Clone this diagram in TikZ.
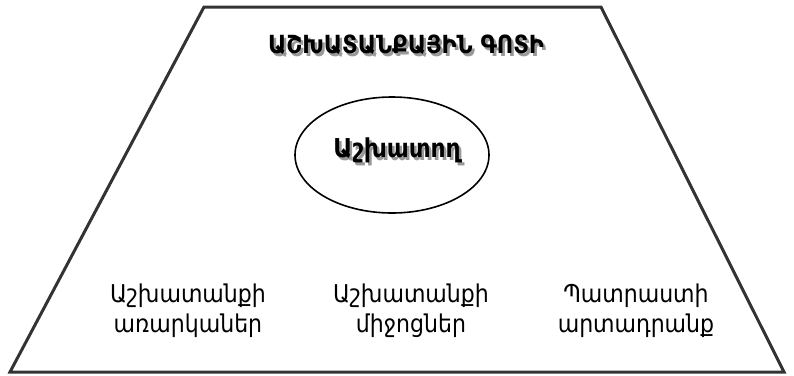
\documentclass[tikz,border=0pt]{standalone}
\usepackage{fontspec}
\setmainfont{DejaVu Sans Condensed}
\usetikzlibrary{shapes.geometric}
\newcommand{\shadowtext}[1]{\makebox[0pt][l]{\hspace{2.5pt}\raisebox{-2.5pt}{\textcolor{black!40}{#1}}}#1}
\tikzset{
  lbl/.style={align=center, font=\fontsize{24.5}{30}\selectfont, inner sep=0pt},
  ttl/.style={inner sep=0pt, font=\bfseries\fontsize{25}{30}\selectfont},
}
\begin{document}
\begin{tikzpicture}[x=1pt,y=-1pt]
\useasboundingbox (0,0) rectangle (794,375);
\draw[line width=3pt, line join=miter, draw=black!80] (204,7) -- (601,7) -- (784,372) -- (10,372) -- cycle;
\node[draw, line width=1.6pt, ellipse, minimum width=194pt, minimum height=116pt] (e) at (392,155) {};
\node[ttl] (t) at (406,46) {\shadowtext{ԱՇԽԱՏԱՆՔԱՅԻՆ ԳՈՏԻ}};
\node[ttl, font=\bfseries\fontsize{26}{30}\selectfont] (w) at (397,152) {\shadowtext{Աշխատող}};
\node[lbl] (a) at (188,311) {Աշխատանքի\\առարկաներ};
\node[lbl] (b) at (411,311) {Աշխատանքի\\միջոցներ};
\node[lbl] (c) at (636,311) {Պատրաստի\\արտադրանք};
\end{tikzpicture}
\end{document}
